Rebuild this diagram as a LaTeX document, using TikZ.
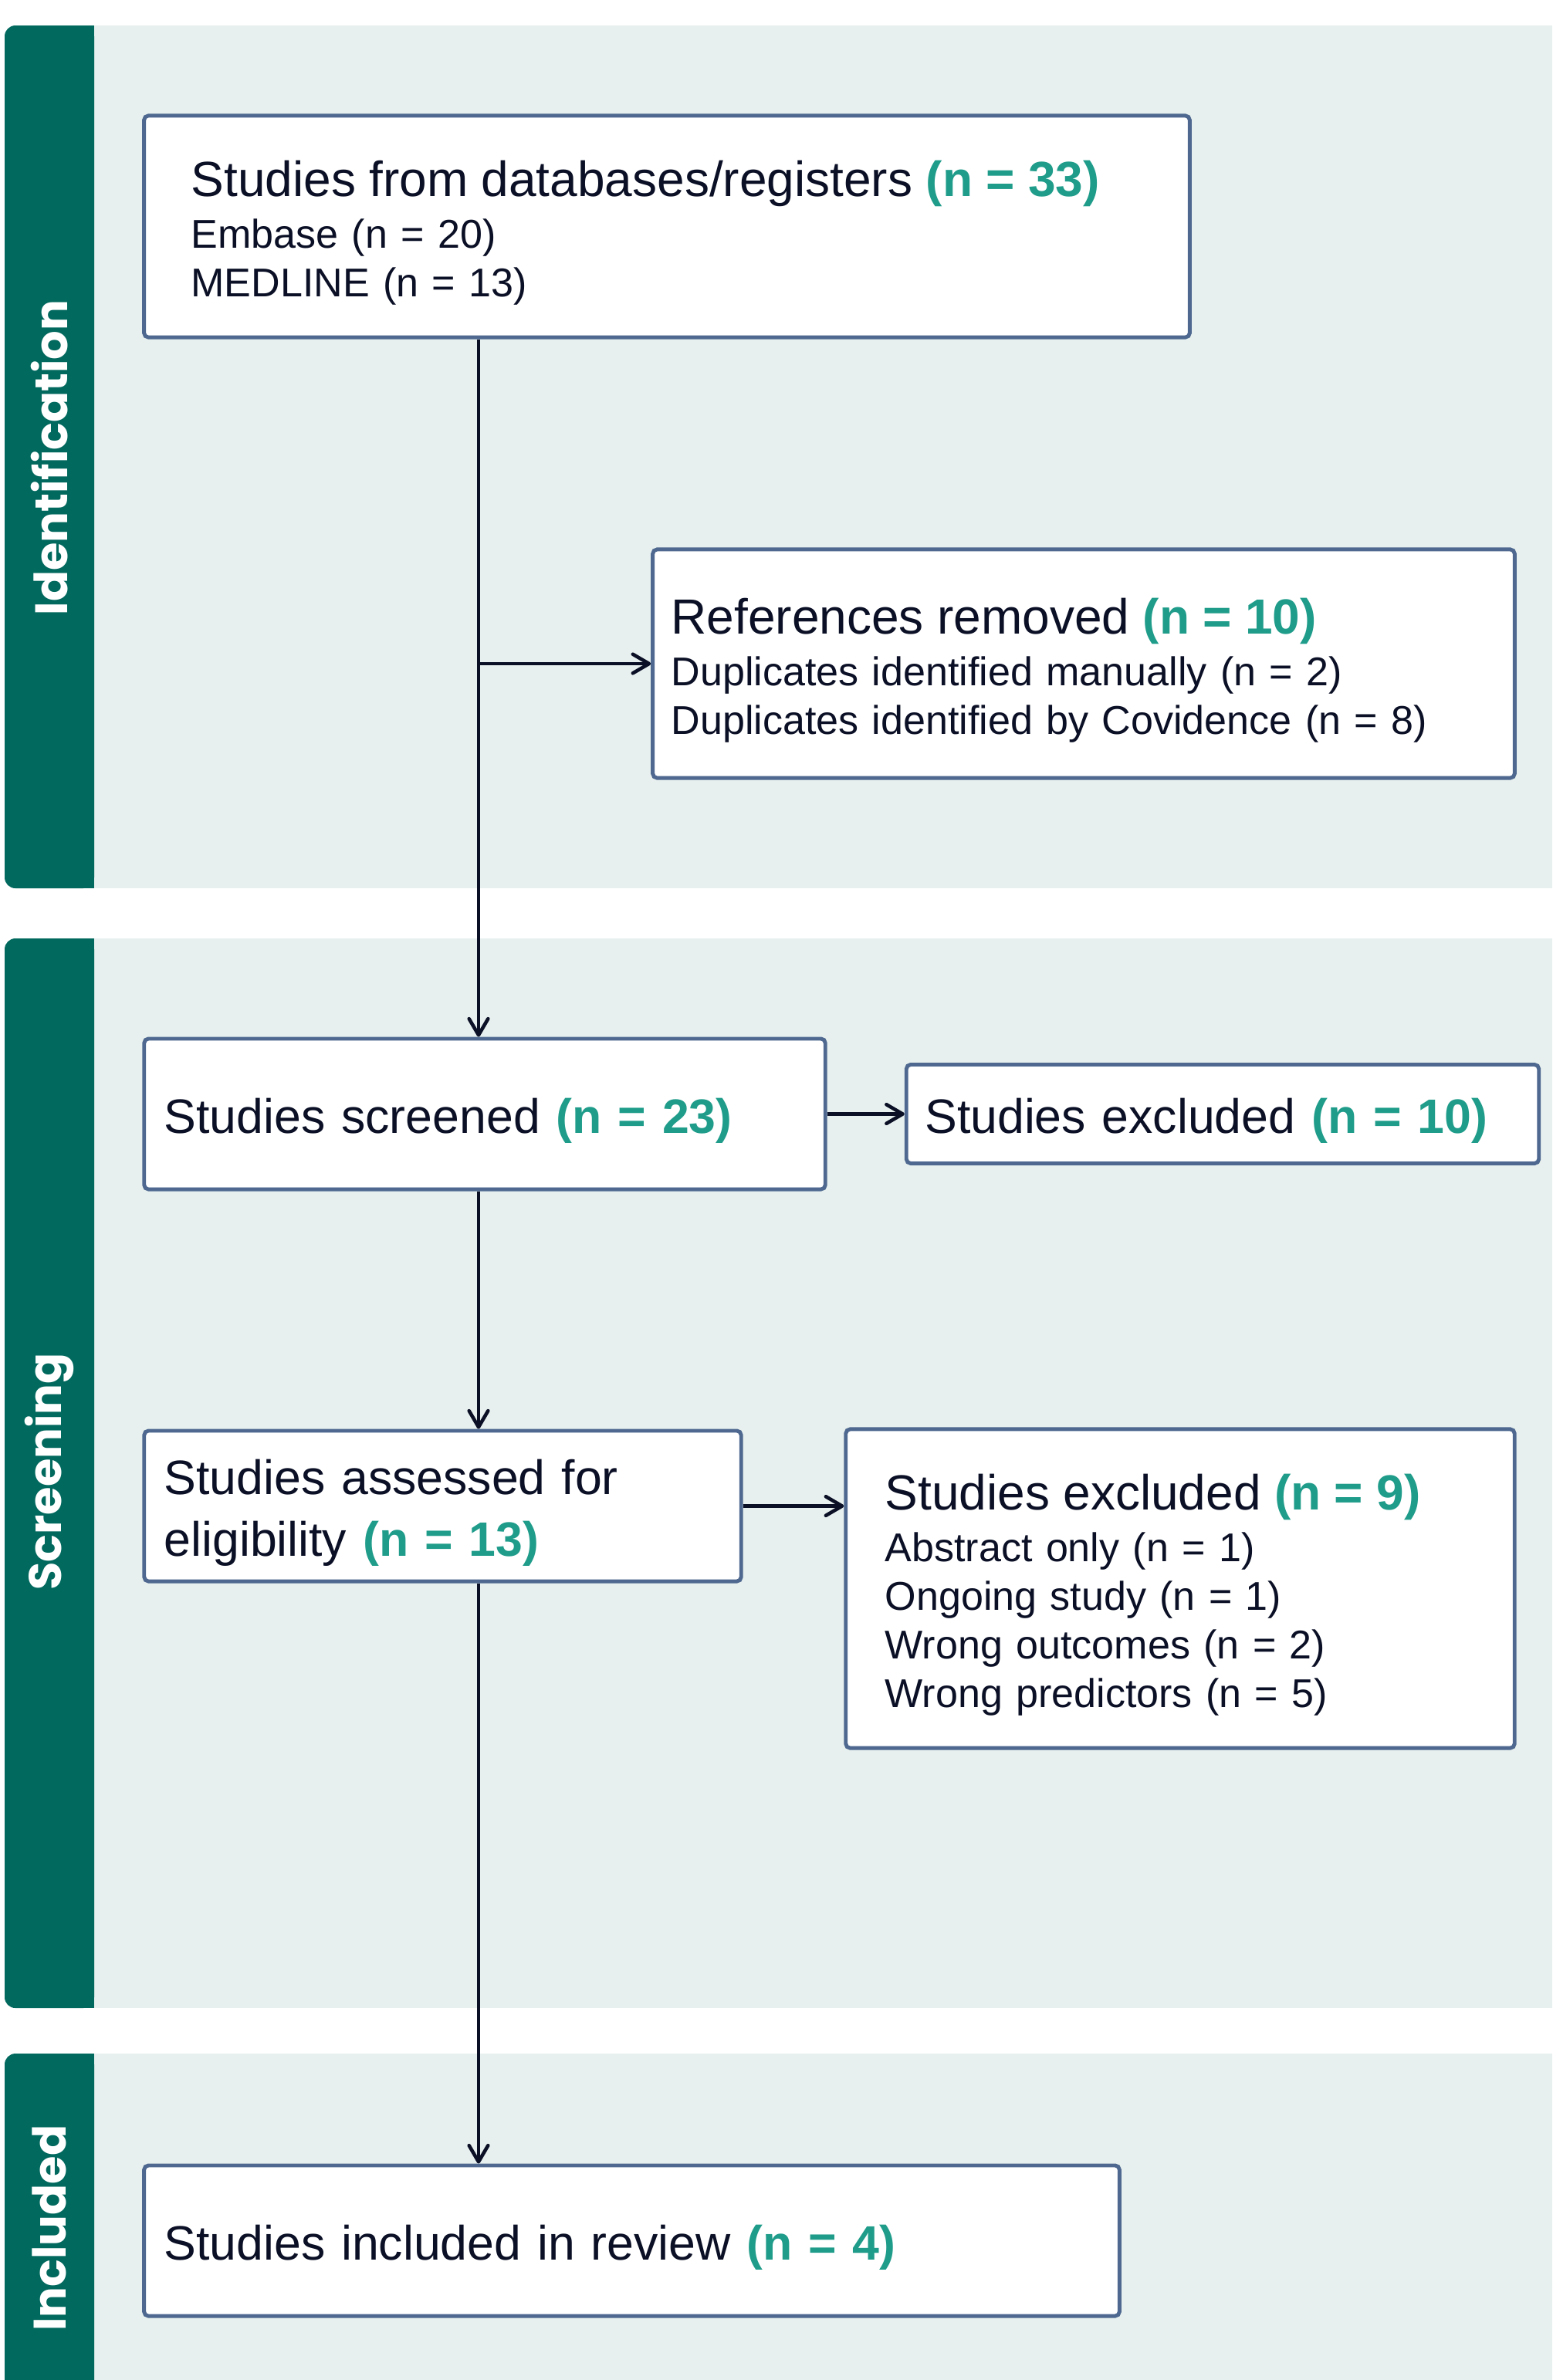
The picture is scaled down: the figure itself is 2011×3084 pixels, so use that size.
\documentclass[tikz,border=0pt]{standalone}
\usepackage{fontspec}
\setmainfont{Liberation Sans}
\newfontfamily\bandfont{Poppins}
\usetikzlibrary{arrows.meta}
\usetikzlibrary{positioning}

\definecolor{bandteal}{HTML}{02695E}
\definecolor{bandlight}{HTML}{E7F0EE}
\definecolor{ncol}{HTML}{1F9C8A}
\definecolor{boxline}{HTML}{4E6890}
\definecolor{ink}{HTML}{0B1026}

\newcommand{\nn}[1]{{\color{ncol}\bfseries (n = #1)}}
\newcommand{\headsize}{\fontsize{18.2}{19}\selectfont}
\newcommand{\linesize}{\fontsize{17.8}{22.5}\selectfont}
\newcommand{\subsize}{\fontsize{14.8}{17.9}\selectfont}

\begin{document}
\begin{tikzpicture}[x=0.01cm, y=-0.01cm,
    box/.style={draw=boxline, line width=1.4pt, fill=white, rounded corners=1.6pt,
        text=ink, align=left, inner ysep=0pt,
        execute at begin node={\rule{0pt}{0.63cm}}},
    flow/.style={draw=ink, line width=1.3pt,
        -{Straight Barb[length=6pt, width=7pt, line cap=round, line join=round]}},
    phase/.style={text=white, font=\bandfont\bfseries\fontsize{16.8}{20}\selectfont, rotate=90}]

    \useasboundingbox (0,0) rectangle (2011,3084);

    % phase bands
    \foreach \top/\bot in {33/1151, 1216/2602, 2661/3140} {
        \fill[bandlight] (122,\top) rectangle (2011,\bot);
        \fill[bandteal, rounded corners=0.14cm] (6,\top) rectangle (122,\bot);
        \fill[bandteal] (60,\top) rectangle (122,\bot);
    }
    \node[phase] (ident)  at (64,593)  {Identification};
    \node[phase] (screen) at (64,1907) {Screening};
    \node[phase] (incl)   at (64,2887) {Included};

    % boxes
    \node[box, font=\subsize, text width=12.32cm, inner xsep=0.61cm, minimum height=2.87cm]
        (src) at (864,293.5)
        {{\headsize Studies from databases/registers \nn{33}}\\[1.2pt]
         Embase (n = 20)\\
         MEDLINE (n = 13)};
    \node[box, font=\subsize, text width=10.68cm, inner xsep=0.24cm, minimum height=2.96cm]
        (rem) at (1404,860)
        {{\headsize References removed \nn{10}}\\[1.2pt]
         Duplicates identified manually (n = 2)\\
         Duplicates identified by Covidence (n = 8)};
    \node[box, font=\linesize, text width=8.30cm, inner xsep=0.26cm, minimum height=1.95cm]
        (scr) at (628,1443.5)
        {Studies screened \nn{23}};
    \node[box, font=\linesize, text width=7.71cm, inner xsep=0.24cm, minimum height=1.28cm]
        (exc1) [right=1.0cm of scr]
        {Studies excluded \nn{10}};
    \node[box, font=\linesize, text width=7.21cm, inner xsep=0.26cm, minimum height=1.95cm]
        (elig) at (573.5,1951.5)
        {Studies assessed for\\
         eligibility \nn{13}};
    \node[box, font=\subsize, text width=7.64cm, inner xsep=0.51cm, minimum height=4.13cm]
        (exc2) at (1529,2058.5)
        {{\headsize Studies excluded \nn{9}}\\[1.2pt]
         Abstract only (n = 1)\\
         Ongoing study (n = 1)\\
         Wrong outcomes (n = 2)\\
         Wrong predictors (n = 5)};
    \node[box, font=\linesize, text width=12.11cm, inner xsep=0.26cm, minimum height=1.95cm]
        (inc) at (818.5,2903.5)
        {Studies included in review \nn{4}};

    % connectors
    \coordinate (spine) at (620,0);
    \draw[flow] (src.south -| spine) -- (scr.north -| spine);
    \draw[flow] (spine |- rem.west) -- (rem.west);
    \draw[flow] (scr.east) -- (exc1.west);
    \draw[flow] (scr.south -| spine) -- (elig.north -| spine);
    \draw[flow] (elig.east) -- (elig.east -| exc2.west);
    \draw[flow] (elig.south -| spine) -- (inc.north -| spine);

\end{tikzpicture}
\end{document}
